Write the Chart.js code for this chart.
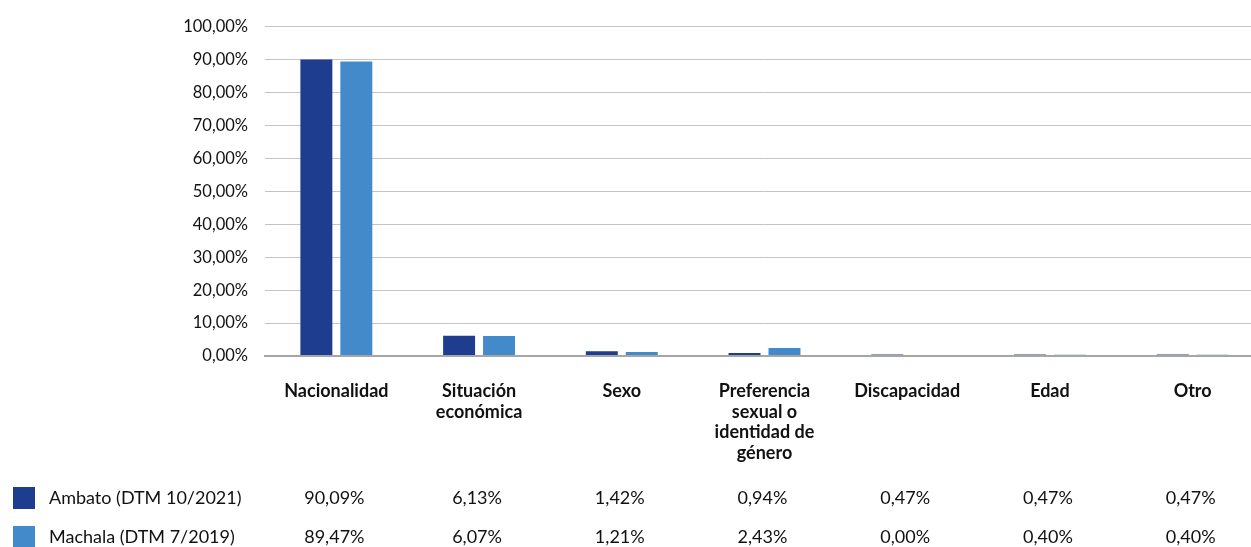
<!DOCTYPE html>
<html>
<head>
<meta charset="utf-8">
<script src="https://cdn.jsdelivr.net/npm/chart.js@4"></script>
<style>
  html, body { margin: 0; padding: 0; background: #ffffff; overflow: hidden; }
  #wrap { width: 1251px; height: 547px; position: relative; overflow: hidden; }
  canvas { display: block; }
</style>
</head>
<body>
<div id="wrap"><canvas id="c" width="1264" height="547"></canvas></div>
<script>
const categories = [
  "Nacionalidad",
  ["Situación", "económica"],
  "Sexo",
  ["Preferencia", "sexual o", "identidad de", "género"],
  "Discapacidad",
  "Edad",
  "Otro"
];
const seriesNames = ["Ambato (DTM 10/2021)", "Machala (DTM 7/2019)"];
const ambato = [90.09, 6.13, 1.42, 0.94, 0.47, 0.47, 0.47];
const machala = [89.47, 6.07, 1.21, 2.43, 0.00, 0.40, 0.40];
const colors = ["#1F3D8F", "#428ACA"];

const FONT = "Lato, 'Open Sans', sans-serif";
const fmt = v => v.toFixed(2).replace('.', ',') + '%';

const tablePlugin = {
  id: 'dataTable',
  afterDraw(chart) {
    const ctx = chart.ctx;
    const xs = chart.scales.x;
    const rowsY = [498, 537];
    const data = [ambato, machala];
    ctx.save();
    ctx.textBaseline = 'middle';
    ctx.font = "18px " + FONT;
    for (let r = 0; r < 2; r++) {
      const y = rowsY[r];
      ctx.fillStyle = colors[r];
      ctx.fillRect(13, y - 11, 22, 22);
      ctx.fillStyle = '#111';
      ctx.textAlign = 'left';
      ctx.fillText(seriesNames[r], 49, y);
      ctx.textAlign = 'center';
      for (let i = 0; i < categories.length; i++) {
        ctx.fillText(fmt(data[r][i]), xs.getPixelForValue(i) - 2, y);
      }
    }
    ctx.restore();
  }
};

new Chart(document.getElementById('c'), {
  type: 'bar',
  data: {
    labels: categories,
    datasets: [
      { label: seriesNames[0], data: ambato, backgroundColor: colors[0], barPercentage: 0.8, categoryPercentage: 0.56 },
      { label: seriesNames[1], data: machala, backgroundColor: colors[1], barPercentage: 0.8, categoryPercentage: 0.56 }
    ]
  },
  options: {
    responsive: false,
    animation: false,
    layout: { padding: { top: 23, right: 0, left: 0, bottom: 0 } },
    plugins: { legend: { display: false }, tooltip: { enabled: false } },
    scales: {
      x: {
        grid: { display: false, drawTicks: false },
        border: { display: true, color: '#a6a6a6', width: 2 },
        ticks: {
          color: '#111',
          font: { family: FONT, size: 18, weight: 'bold', lineHeight: 1.14 },
          padding: 25,
          maxRotation: 0,
          autoSkip: false
        },
        afterFit(scale) { scale.height = 191; }
      },
      y: {
        min: 0, max: 100,
        grid: {
          color: ctx => ctx.tick && ctx.tick.value === 0 ? '#a6a6a6' : '#c4c4c4',
          lineWidth: ctx => ctx.tick && ctx.tick.value === 0 ? 2 : 1,
          drawTicks: false
        },
        border: { display: false },
        ticks: {
          stepSize: 10,
          color: '#111',
          font: { family: FONT, size: 16.5 },
          padding: 17,
          callback: v => fmt(v)
        },
        afterFit(scale) { scale.width = 265; }
      }
    }
  },
  plugins: [tablePlugin]
});
</script>
</body>
</html>
